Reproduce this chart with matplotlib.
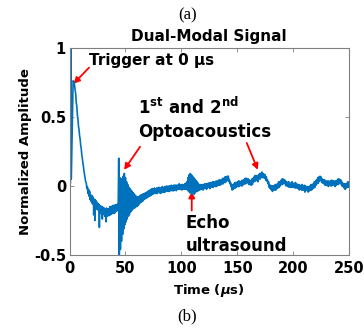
import numpy as np
import matplotlib
matplotlib.use("Agg")
import matplotlib.pyplot as plt
from matplotlib.patches import FancyArrowPatch

plt.rcParams["font.family"] = "DejaVu Sans"
plt.rcParams["font.weight"] = "bold"
plt.rcParams["axes.unicode_minus"] = False
plt.rcParams["mathtext.fontset"] = "dejavusans"

# trigger transient at the very start (us, normalized amplitude)
trig_t = [0.0, 0.8, 1.2, 1.6, 3.2]
trig_amp = [0.0, 0.02, 1.05, 0.05, 0.76]

# trace centre and noise half-width, one value per microsecond from 4 to 250 us
amp_mid = [
    0.74, 0.68, 0.59, 0.50, 0.42, 0.35, 0.28, 0.21, 0.15, 0.09,
    0.04, 0.00, -0.03, -0.05, -0.07, -0.09, -0.10, -0.11, -0.12, -0.13,
    -0.14, -0.15, -0.16, -0.17, -0.17, -0.18, -0.18, -0.19, -0.19, -0.19,
    -0.19, -0.19, -0.18, -0.18, -0.17, -0.17, -0.17, -0.16, -0.16, -0.15,
    -0.15, -0.20, -0.175, -0.15, -0.12, -0.095, -0.10, -0.105, -0.105, -0.11,
    -0.105, -0.105, -0.105, -0.105, -0.11, -0.11, -0.115, -0.11, -0.105, -0.095,
    -0.09, -0.085, -0.08, -0.075, -0.07, -0.065, -0.06, -0.055, -0.05, -0.045,
    -0.04, -0.04, -0.035, -0.04, -0.035, -0.03, -0.03, -0.035, -0.03, -0.025,
    -0.03, -0.025, -0.02, -0.02, -0.025, -0.02, -0.015, -0.015, -0.02, -0.015,
    -0.01, -0.015, -0.01, -0.01, -0.005, -0.01, -0.01, -0.005, -0.01, -0.005,
    0.0, 0.0, 0.01, 0.015, 0.02, 0.01, 0.01, 0.0, 0.0, 0.0,
    -0.005, -0.005, -0.01, -0.005, -0.01, -0.01, -0.005, 0.0, -0.005, 0.0,
    0.005, 0.0, 0.01, 0.005, 0.01, 0.015, 0.01, 0.015, 0.02, 0.02,
    0.025, 0.025, 0.03, 0.035, 0.04, 0.045, 0.05, 0.055, 0.05, 0.03,
    0.01, -0.01, -0.01, 0.0, 0.005, 0.01, 0.01, 0.015, 0.02, 0.015,
    0.02, 0.025, 0.03, 0.035, 0.04, 0.035, 0.03, 0.025, 0.02, 0.03,
    0.04, 0.05, 0.055, 0.06, 0.05, 0.065, 0.07, 0.075, 0.08, 0.075,
    0.07, 0.06, 0.05, 0.03, 0.01, -0.005, -0.015, -0.02, -0.015, -0.015,
    -0.01, -0.005, 0.0, 0.01, 0.015, 0.025, 0.03, 0.035, 0.03, 0.02,
    0.015, 0.01, 0.01, 0.005, 0.005, 0.01, 0.005, 0.0, 0.005, 0.0,
    -0.005, -0.01, -0.01, -0.015, -0.01, -0.015, -0.02, -0.015, -0.02, -0.025,
    -0.02, -0.015, -0.01, -0.005, 0.0, 0.01, 0.02, 0.03, 0.04, 0.05,
    0.055, 0.045, 0.035, 0.03, 0.025, 0.02, 0.02, 0.015, 0.02, 0.015,
    0.02, 0.025, 0.02, 0.015, 0.02, 0.025, 0.03, 0.035, 0.03, 0.02,
    0.01, 0.0, -0.005, 0.0, 0.005, 0.01, 0.005,
]
amp_spread = [
    0.012, 0.012, 0.012, 0.012, 0.012, 0.012, 0.012, 0.012, 0.012, 0.012,
    0.012, 0.02, 0.025, 0.025, 0.03, 0.025, 0.03, 0.03, 0.025, 0.03,
    0.03, 0.025, 0.03, 0.03, 0.025, 0.03, 0.025, 0.03, 0.025, 0.03,
    0.025, 0.025, 0.03, 0.025, 0.025, 0.03, 0.025, 0.025, 0.02, 0.02,
    0.35, 0.26, 0.225, 0.20, 0.19, 0.185, 0.16, 0.135, 0.115, 0.10,
    0.085, 0.075, 0.065, 0.055, 0.05, 0.04, 0.035, 0.03, 0.025, 0.025,
    0.025, 0.025, 0.02, 0.02, 0.02, 0.02, 0.02, 0.02, 0.02, 0.02,
    0.02, 0.015, 0.02, 0.015, 0.02, 0.015, 0.02, 0.02, 0.015, 0.02,
    0.015, 0.02, 0.015, 0.02, 0.015, 0.02, 0.015, 0.02, 0.015, 0.02,
    0.015, 0.02, 0.015, 0.015, 0.02, 0.015, 0.02, 0.015, 0.015, 0.02,
    0.02, 0.03, 0.05, 0.065, 0.07, 0.07, 0.06, 0.06, 0.05, 0.04,
    0.035, 0.025, 0.02, 0.015, 0.015, 0.02, 0.015, 0.015, 0.02, 0.015,
    0.015, 0.02, 0.015, 0.015, 0.02, 0.015, 0.015, 0.02, 0.015, 0.015,
    0.02, 0.015, 0.015, 0.02, 0.015, 0.02, 0.015, 0.015, 0.02, 0.015,
    0.015, 0.02, 0.015, 0.015, 0.02, 0.015, 0.015, 0.02, 0.015, 0.015,
    0.02, 0.015, 0.015, 0.02, 0.015, 0.015, 0.02, 0.015, 0.015, 0.02,
    0.015, 0.015, 0.02, 0.015, 0.02, 0.015, 0.02, 0.015, 0.02, 0.015,
    0.015, 0.02, 0.015, 0.015, 0.02, 0.015, 0.015, 0.02, 0.015, 0.015,
    0.02, 0.015, 0.015, 0.02, 0.015, 0.015, 0.02, 0.015, 0.015, 0.02,
    0.015, 0.015, 0.02, 0.015, 0.015, 0.02, 0.015, 0.015, 0.02, 0.015,
    0.015, 0.02, 0.015, 0.015, 0.02, 0.015, 0.025, 0.015, 0.015, 0.02,
    0.015, 0.015, 0.02, 0.015, 0.015, 0.02, 0.015, 0.015, 0.02, 0.015,
    0.015, 0.02, 0.015, 0.015, 0.02, 0.015, 0.015, 0.02, 0.015, 0.015,
    0.02, 0.015, 0.015, 0.02, 0.015, 0.015, 0.02, 0.015, 0.015, 0.02,
    0.015, 0.015, 0.02, 0.015, 0.015, 0.02, 0.015,
]

# isolated downward noise spikes before the first optoacoustic burst
spike_t = [21.6, 22.8, 26.7, 29.3, 32.8]
spike_amp = [-0.21, -0.25, -0.30, -0.24, -0.26]

x_ticks = [0, 50, 100, 150, 200, 250]
y_ticks = [-0.5, 0, 0.5, 1]
y_tick_labels = ["-0.5", "0", "0.5", "1"]

# build the noisy trace: upper edge on the whole microsecond, lower edge half a microsecond later
grid = np.arange(4, 4 + len(amp_mid))
mid = np.array(amp_mid)
spread = np.array(amp_spread)
zig_t = np.empty(2 * len(grid))
zig_y = np.empty(2 * len(grid))
zig_t[0::2] = grid
zig_t[1::2] = grid + 0.5
zig_y[0::2] = mid + spread
zig_y[1::2] = mid - spread

t_all = np.concatenate([trig_t, zig_t, spike_t])
y_all = np.concatenate([trig_amp, zig_y, spike_amp])
order = np.argsort(t_all, kind="stable")
t_all = t_all[order]
y_all = y_all[order]

fig = plt.figure(figsize=(3.64, 3.31), dpi=100)
ax = fig.add_axes([0.191, 0.2296, 0.768, 0.6265])

ax.plot(t_all, y_all, color="#0072BD", lw=1.2)

ax.set_xlim(0, 250)
ax.set_ylim(-0.5, 1)
ax.set_xticks(x_ticks)
ax.set_yticks(y_ticks)
ax.set_yticklabels(y_tick_labels)
ax.tick_params(direction="in", top=True, right=True, length=3, width=0.6,
               color="#808080", labelsize=10.5)
ax.tick_params(axis="x", pad=4)
ax.tick_params(axis="y", pad=2.5)
for s in ax.spines.values():
    s.set_color("#808080")
    s.set_linewidth(0.8)

ax.set_xlabel("Time ($\\mu$s)", fontsize=9.5, fontweight="bold")
ax.set_ylabel("Normalized Amplitude", fontsize=9.5, fontweight="bold")
ax.xaxis.set_label_coords(0.5, -0.13)
ax.yaxis.set_label_coords(-0.135, 0.5)
ax.set_title("Dual-Modal Signal", fontsize=11, fontweight="bold", pad=4.5)

# annotations
ax.text(17.7, 0.872, "Trigger at 0 \u00b5s", fontsize=11, fontweight="bold", va="baseline")
ax.text(61.3, 0.52, r"1$^{\mathbf{st}}$ and 2$^{\mathbf{nd}}$", fontsize=12,
        fontweight="bold", va="baseline")
ax.text(61.5, 0.353, "Optoacoustics", fontsize=12, fontweight="bold", va="baseline")
ax.text(104, -0.302, "Echo", fontsize=12, fontweight="bold", va="baseline")
ax.text(104, -0.47, "ultrasound", fontsize=12, fontweight="bold", va="baseline")

arrows = [
    ((17.4, 0.855), (3.6, 0.739)),
    ((63.1, 0.283), (48.8, 0.116)),
    ((158.5, 0.31), (168.4, 0.116)),
    ((109.3, -0.178), (109.3, -0.041)),
]
for tail, head in arrows:
    ax.add_patch(FancyArrowPatch(tail, head, arrowstyle="-|>", mutation_scale=9,
                                 color="red", lw=1.3, shrinkA=0, shrinkB=0))

fig.text(0.515, 1 - 15.5 / 331, "(a)", family="Liberation Serif", fontweight="normal",
         fontsize=12, ha="center", va="center")
fig.text(0.515, 1 - 316.5 / 331, "(b)", family="Liberation Serif", fontweight="normal",
         fontsize=12, ha="center", va="center")

fig.savefig("out.png", dpi=100)
